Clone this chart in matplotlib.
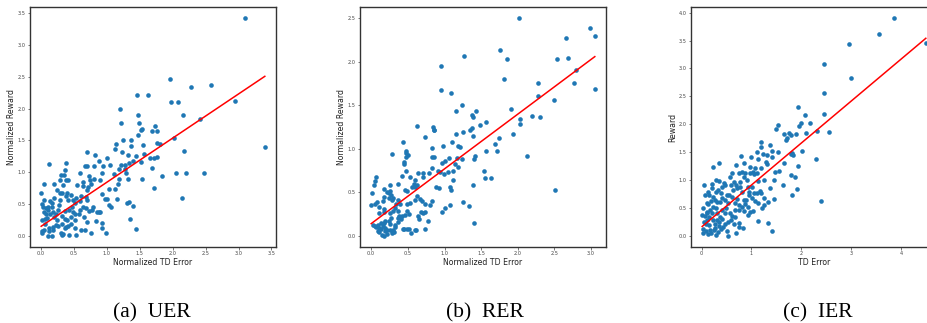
import numpy as np
import matplotlib
matplotlib.use("Agg")
import matplotlib.pyplot as plt

# ---------------- data ----------------
uer_td = [3.10, 3.40, 2.95, 2.58, 2.28, 1.96, 1.98, 2.08, 2.16, 2.41, 2.02, 2.17, 2.47, 2.20, 2.05, 2.14,
          1.84, 1.72, 1.69, 1.46, 1.62, 1.20, 1.47, 1.22, 1.49, 1.54, 1.52, 1.73, 1.68, 1.76, 1.47, 1.36,
          1.24, 1.14, 1.36, 1.55, 1.76, 1.80, 1.12, 1.23, 1.32, 1.44, 1.56, 1.76, 1.72, 1.66, 1.40, 1.52,
          1.27, 1.22, 1.33, 1.18, 1.28, 1.29, 1.18, 1.32, 1.53, 1.10, 1.17, 1.12, 1.16, 1.03, 1.06, 1.31,
          1.34, 1.40, 1.35, 1.44, 0.99, 0.92, 0.93, 0.84, 0.85, 0.88, 0.90, 0.79, 1.00, 0.97, 1.03, 0.93,
          1.00, 0.82, 0.88, 0.70, 0.94, 1.04, 0.80, 0.69, 0.67, 0.92, 0.89, 0.80, 0.59, 0.72, 0.74, 0.71,
          0.69, 0.68, 0.61, 0.55, 0.63, 0.70, 0.64, 0.59, 0.51, 0.68, 0.73, 0.77, 0.65, 0.70, 0.67, 0.75,
          0.60, 0.52, 0.53, 0.42, 0.52, 0.45, 0.58, 0.47, 0.41, 0.38, 0.39, 0.31, 0.28, 0.33, 0.36, 0.37,
          0.35, 0.30, 0.29, 0.41, 0.37, 0.28, 0.24, 0.19, 0.12, 0.04, 0.00, 0.04, 0.01, 0.03, 0.13, 0.16,
          0.18, 0.10, 0.08, 0.04, 0.02, 0.06, 0.09, 0.13, 0.23, 0.19, 0.26, 0.18, 0.12, 0.05, 0.02, 0.11,
          0.17, 0.18, 0.26, 0.30, 0.31, 0.33, 0.36, 0.38, 0.41, 0.46, 0.40, 0.36, 0.32, 0.31, 0.24, 0.22,
          0.27, 0.19, 0.16, 0.11, 0.08, 0.02, 0.12, 0.06, 0.36, 0.42, 0.48, 0.51, 0.59, 0.53, 0.48, 0.46,
          0.64, 0.75]
uer_reward = [3.42, 1.40, 2.12, 2.37, 2.34, 2.46, 2.10, 2.11, 1.90, 1.83, 1.53, 1.33, 0.99, 0.98, 0.98, 0.60,
              0.94, 0.75, 1.06, 2.21, 2.21, 1.99, 1.90, 1.77, 1.77, 1.68, 1.66, 1.72, 1.65, 1.64, 1.59, 1.50,
              1.50, 1.44, 1.41, 1.42, 1.46, 1.44, 1.36, 1.31, 1.27, 1.26, 1.29, 1.24, 1.23, 1.23, 1.18, 1.16,
              1.11, 1.11, 1.14, 1.05, 1.05, 0.99, 0.89, 0.89, 0.90, 0.97, 0.81, 0.73, 0.58, 0.49, 0.46, 0.52,
              0.53, 0.47, 0.27, 0.11, 0.04, 0.13, 0.20, 0.23, 0.38, 0.38, 0.38, 0.45, 0.58, 0.58, 0.74, 0.65,
              1.23, 1.27, 1.18, 1.31, 1.09, 1.12, 1.10, 1.10, 1.09, 0.98, 0.88, 0.89, 0.99, 0.94, 0.88, 0.77,
              0.72, 0.61, 0.63, 0.80, 0.78, 0.56, 0.46, 0.40, 0.51, 0.44, 0.39, 0.41, 0.30, 0.22, 0.09, 0.04,
              0.09, 0.13, 0.02, 0.01, 0.25, 0.30, 0.35, 0.45, 0.56, 0.62, 0.67, 0.67, 0.68, 0.80, 1.03, 1.14,
              0.95, 0.96, 0.88, 0.88, 0.87, 0.57, 0.72, 0.82, 1.13, 0.81, 0.68, 0.56, 0.50, 0.46, 0.54, 0.46,
              0.37, 0.40, 0.35, 0.37, 0.25, 0.26, 0.28, 0.35, 0.35, 0.30, 0.40, 0.14, 0.12, 0.09, 0.04, 0.00,
              0.00, 0.09, 0.16, 0.04, 0.01, 0.03, 0.12, 0.14, 0.16, 0.19, 0.25, 0.27, 0.19, 0.31, 0.25, 0.17,
              0.48, 0.59, 0.51, 0.46, 0.43, 0.07, 0.07, 0.18, 0.39, 0.41, 0.37, 0.35, 0.55, 0.59, 0.56, 0.64,
              0.85, 0.82]

rer_td = [2.02, 2.98, 3.05, 3.05, 2.66, 2.54, 2.69, 2.80, 2.76, 2.28, 2.27, 2.49, 2.20, 2.30, 2.51, 2.13,
          1.76, 1.85, 1.81, 1.91, 2.03, 2.03, 1.93, 1.74, 1.69, 1.72, 1.64, 1.55, 1.54, 1.27, 0.95, 0.95,
          1.09, 1.24, 1.15, 1.43, 1.38, 1.39, 1.56, 1.48, 1.38, 1.35, 1.25, 1.15, 1.39, 1.19, 1.21, 0.98,
          1.10, 0.84, 0.85, 0.74, 0.86, 0.62, 0.83, 0.86, 0.83, 0.96, 1.01, 1.06, 1.17, 1.24, 1.14, 1.19,
          1.40, 1.41, 1.56, 1.11, 1.05, 0.94, 0.91, 0.99, 0.83, 0.79, 0.71, 0.71, 0.64, 0.60, 0.62, 0.60,
          0.58, 0.56, 0.63, 0.66, 0.60, 0.69, 0.73, 0.73, 0.68, 0.70, 0.78, 0.73, 0.61, 0.65, 0.64, 0.54,
          0.60, 0.80, 0.83, 0.89, 0.93, 1.07, 1.12, 1.09, 0.96, 1.01, 1.07, 1.25, 1.34, 1.40, 1.39, 0.44,
          0.47, 0.48, 0.48, 0.50, 0.29, 0.45, 0.45, 0.47, 0.42, 0.53, 0.49, 0.46, 0.36, 0.25, 0.25, 0.24,
          0.21, 0.27, 0.17, 0.04, 0.05, 0.07, 0.01, 0.00, 0.05, 0.08, 0.10, 0.16, 0.18, 0.24, 0.29, 0.30,
          0.34, 0.37, 0.39, 0.49, 0.53, 0.33, 0.36, 0.30, 0.26, 0.17, 0.11, 0.18, 0.49, 0.52, 0.46, 0.42,
          0.41, 0.45, 0.49, 0.52, 0.43, 0.33, 0.36, 0.33, 0.30, 0.31, 0.25, 0.24, 0.19, 0.17, 0.14, 0.09,
          0.03, 0.05, 0.06, 0.11, 0.14, 0.16, 0.19, 0.22, 0.25, 0.19, 0.11, 0.09, 0.15, 0.17, 0.21, 0.28,
          0.38, 0.27, 0.36]
rer_reward = [2.50, 2.39, 2.30, 1.69, 2.27, 2.03, 2.04, 1.91, 1.76, 1.76, 1.61, 1.56, 1.38, 1.36, 0.53, 0.92,
              2.13, 2.03, 1.80, 1.46, 1.34, 1.29, 1.17, 1.12, 1.05, 0.98, 0.66, 0.66, 0.74, 2.07, 1.95, 1.68,
              1.64, 1.50, 1.43, 1.43, 1.39, 1.36, 1.31, 1.27, 1.24, 1.22, 1.19, 1.17, 1.15, 1.03, 1.02, 1.03,
              1.08, 1.25, 1.21, 1.14, 1.22, 1.26, 1.01, 0.91, 0.90, 0.84, 0.86, 0.89, 0.89, 0.88, 0.83, 0.79,
              0.88, 0.92, 0.98, 0.75, 0.73, 0.73, 0.74, 0.71, 0.78, 0.72, 0.72, 0.67, 0.72, 0.64, 0.58, 0.56,
              0.59, 0.56, 0.46, 0.42, 0.41, 0.40, 0.36, 0.27, 0.27, 0.26, 0.17, 0.08, 0.07, 0.19, 0.23, 0.03,
              0.07, 0.35, 0.40, 0.56, 0.55, 0.56, 0.64, 0.53, 0.27, 0.32, 0.35, 0.39, 0.34, 0.15, 0.58, 1.08,
              0.98, 0.95, 0.91, 0.93, 0.94, 0.85, 0.83, 0.75, 0.69, 0.67, 0.52, 0.53, 0.59, 0.58, 0.51, 0.49,
              0.50, 0.47, 0.54, 0.58, 0.63, 0.67, 0.49, 0.35, 0.36, 0.39, 0.33, 0.40, 0.45, 0.43, 0.41, 0.43,
              0.36, 0.41, 0.36, 0.36, 0.38, 0.32, 0.29, 0.28, 0.26, 0.27, 0.26, 0.31, 0.29, 0.25, 0.24, 0.23,
              0.19, 0.08, 0.08, 0.08, 0.08, 0.13, 0.16, 0.10, 0.07, 0.04, 0.14, 0.17, 0.17, 0.15, 0.15, 0.12,
              0.12, 0.11, 0.10, 0.09, 0.08, 0.11, 0.09, 0.07, 0.07, 0.06, 0.04, 0.05, 0.01, 0.00, 0.02, 0.03,
              0.23, 0.20, 0.20]

ier_td = [3.87, 3.55, 4.50, 2.95, 2.45, 2.99, 2.46, 2.46, 1.94, 2.07, 2.17, 1.99, 1.96, 2.55, 2.31, 2.09,
          2.39, 2.30, 2.01, 1.93, 1.92, 1.87, 1.81, 1.79, 1.81, 1.83, 1.79, 1.75, 1.79, 1.66, 1.69, 1.71,
          1.89, 1.53, 1.49, 1.53, 1.41, 1.37, 1.41, 1.47, 1.55, 1.66, 1.63, 1.45, 1.38, 1.45, 1.34, 1.22,
          1.26, 1.33, 1.42, 1.14, 1.19, 1.19, 1.12, 1.24, 1.32, 1.30, 1.32, 1.13, 1.20, 1.07, 1.04, 1.12,
          1.05, 1.25, 1.14, 1.17, 1.12, 1.20, 1.25, 1.08, 1.14, 1.04, 0.98, 0.92, 0.94, 0.96, 0.88, 0.91,
          0.85, 0.80, 0.78, 0.85, 0.69, 0.75, 0.60, 0.56, 0.68, 0.76, 0.81, 0.70, 0.62, 0.58, 0.47, 0.45,
          0.35, 0.40, 0.33, 0.28, 0.38, 0.50, 0.55, 0.61, 0.70, 0.66, 0.75, 0.80, 0.74, 0.84, 0.92, 0.75,
          0.65, 0.50, 0.53, 0.69, 0.74, 0.82, 0.57, 0.47, 0.49, 0.41, 0.37, 0.31, 0.23, 0.15, 0.13, 0.07,
          0.05, 0.22, 0.34, 0.29, 0.21, 0.18, 0.10, 0.03, 0.01, 0.06, 0.11, 0.17, 0.22, 0.28, 0.31, 0.37,
          0.41, 0.35, 0.31, 0.26, 0.22, 0.15, 0.10, 0.05, 0.03, 0.02, 0.09, 0.13, 0.17, 0.19, 0.25, 0.29,
          0.33, 0.38, 0.42, 0.46, 0.35, 0.27, 0.14, 0.08, 0.52, 0.58, 0.52, 0.41, 0.65, 0.76, 0.86, 0.98,
          0.98, 1.00, 0.92, 1.02, 1.06, 1.02, 0.84, 0.86, 0.67, 0.60, 0.66, 0.46, 0.27, 0.13, 0.20, 0.10,
          0.21]
ier_reward = [3.90, 3.61, 3.46, 3.44, 3.08, 2.82, 2.56, 2.19, 2.30, 2.16, 2.03, 2.03, 1.97, 1.86, 1.88, 1.85,
              0.63, 1.38, 1.52, 1.26, 0.84, 1.06, 0.74, 1.09, 1.49, 1.44, 1.46, 1.85, 1.81, 1.82, 1.72, 1.75,
              1.82, 1.99, 1.91, 1.51, 1.52, 1.63, 1.42, 1.14, 1.17, 1.30, 0.91, 1.00, 0.85, 0.66, 0.61, 0.49,
              0.55, 0.23, 0.08, 0.27, 1.68, 1.60, 1.51, 1.47, 1.45, 1.32, 1.28, 1.38, 1.21, 1.21, 1.15, 1.12,
              1.10, 1.00, 0.98, 0.81, 0.77, 0.76, 0.68, 0.62, 0.58, 0.45, 0.42, 0.51, 0.79, 0.73, 0.64, 1.00,
              1.05, 1.15, 1.43, 1.31, 1.27, 1.13, 1.12, 1.05, 0.91, 0.88, 0.79, 0.85, 0.83, 0.91, 0.91, 0.95,
              0.98, 0.88, 0.83, 0.79, 0.76, 0.74, 0.74, 0.70, 0.66, 0.59, 0.56, 0.52, 0.46, 0.44, 0.37, 0.23,
              0.21, 0.08, 0.00, 0.05, 0.16, 0.14, 0.40, 0.40, 0.49, 0.46, 0.61, 0.61, 0.70, 0.73, 0.79, 0.74,
              0.91, 1.24, 1.31, 1.00, 0.93, 0.62, 0.58, 0.49, 0.37, 0.35, 0.40, 0.46, 0.52, 0.49, 0.40, 0.34,
              0.31, 0.25, 0.28, 0.22, 0.29, 0.34, 0.28, 0.25, 0.13, 0.05, 0.08, 0.04, 0.11, 0.05, 0.10, 0.01,
              0.07, 0.13, 0.16, 0.21, 0.17, 0.14, 0.19, 0.21, 0.25, 0.29, 0.58, 0.67, 0.97, 0.97, 1.12, 1.12,
              1.24, 1.42, 0.88, 0.88, 0.76, 0.67, 0.64, 0.57, 0.47, 0.35, 0.34, 0.64, 0.64, 0.57, 0.85, 0.43,
              0.40]

# fitted regression lines (intercept, slope)
fit_intercepts = [0.15, 0.14, 0.16]
fit_slopes = [0.693, 0.629, 0.751]

x_labels = ["Normalized TD Error", "Normalized TD Error", "TD Error"]
y_labels = ["Normalized Reward", "Normalized Reward", "Reward"]
captions = ["(a)  UER", "(b)  RER", "(c)  IER"]

# ---------------- figure ----------------
W, H = 927, 323
fig = plt.figure(figsize=(W / 100, H / 100), dpi=100)

axes_left_px = [30, 360, 691]
ax_w_px, ax_top_px, ax_bot_px = 246, 7.3, 246.7
caption_x_px = [152, 485, 818]

datasets = [(uer_td, uer_reward), (rer_td, rer_reward), (ier_td, ier_reward)]

for i, (xs, ys) in enumerate(datasets):
    ax = fig.add_axes([axes_left_px[i] / W, 1 - ax_bot_px / H,
                       ax_w_px / W, (ax_bot_px - ax_top_px) / H])
    xs = np.array(xs)
    ys = np.array(ys)
    ax.scatter(xs, ys, s=11, color="#1f77b4", linewidths=0, zorder=2)
    xl = np.array([xs.min(), xs.max()])
    ax.plot(xl, fit_intercepts[i] + fit_slopes[i] * xl, color="red", lw=1.1, zorder=3)
    ax.margins(0.05)
    ax.set_xlabel(x_labels[i], fontsize=5.6, labelpad=1.5, color="#222222")
    ax.set_ylabel(y_labels[i], fontsize=5.6, labelpad=0.8, color="#222222")
    ax.tick_params(labelsize=3.6, length=1.8, width=0.5, pad=1.5, colors="#444444")
    for sp in ax.spines.values():
        sp.set_linewidth(1.0)
        sp.set_color("#333333")
    fig.text(caption_x_px[i] / W, 1 - 313 / H, captions[i], ha="center", va="center",
             fontsize=15.5, family="Liberation Serif")

fig.savefig("out.png", dpi=100)
